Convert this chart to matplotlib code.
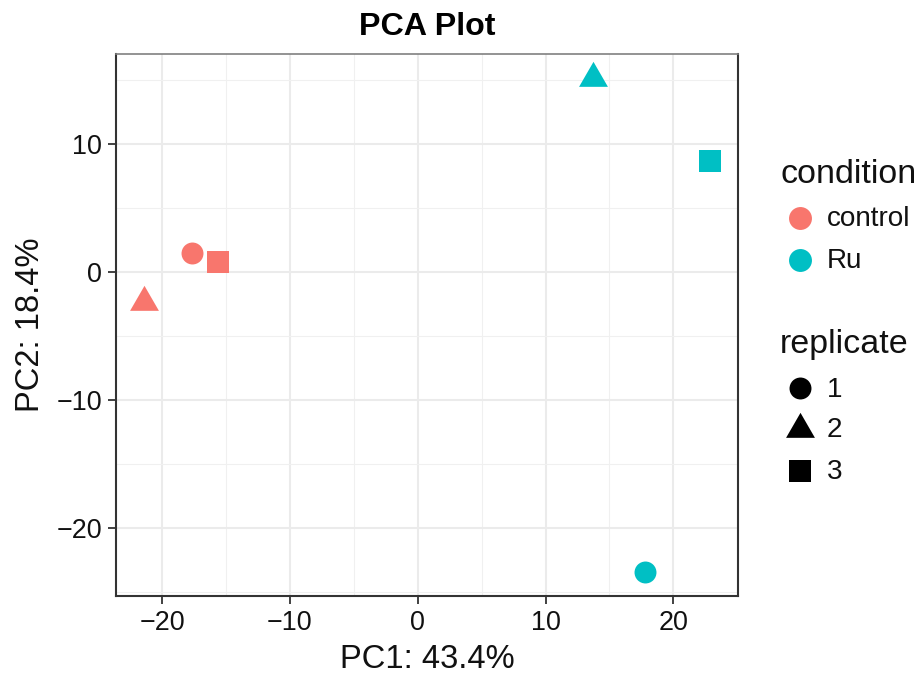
import matplotlib
matplotlib.use("Agg")
import matplotlib.pyplot as plt
from matplotlib.path import Path
from matplotlib.ticker import MultipleLocator

plt.rcParams['font.family'] = ['Liberation Sans', 'DejaVu Sans']

# ---- data ----
pc1 = [-17.65, -21.4, -15.6, 17.75, 13.7, 22.9]
pc2 = [1.5, -2.35, 0.8, -23.45, 15.15, 8.7]
condition = ["control", "control", "control", "Ru", "Ru", "Ru"]
replicate = ["1", "2", "3", "1", "2", "3"]
conditions = ["control", "Ru"]
replicates = ["1", "2", "3"]
cond_colors = {"control": "#F8766D", "Ru": "#00BFC4"}
title = "PCA Plot"
xlabel = "PC1: 43.4%"
ylabel = "PC2: 18.4%"
xticks = [-20, -10, 0, 10, 20]
yticks = [-20, -10, 0, 10]

# ---- styles ----
tri = Path([(0, 1), (-0.8660254, -0.5), (0.8660254, -0.5), (0, 1)],
           [Path.MOVETO, Path.LINETO, Path.LINETO, Path.CLOSEPOLY])
rep_marker = {"1": ("o", 15.8), "2": (tri, 24.0), "3": ("s", 16.3)}

W, H = 917, 677
fig = plt.figure(figsize=(W / 100, H / 100), dpi=100)
L, R, T, B = 116, 738.3, 54, 595.7
ax = fig.add_axes([L / W, 1 - B / H, (R - L) / W, (B - T) / H])
ax.set_xlim(-23.6, 25.08)
ax.set_ylim(-25.27, 17.05)

ax.xaxis.set_major_locator(MultipleLocator(10))
ax.yaxis.set_major_locator(MultipleLocator(10))
ax.xaxis.set_minor_locator(MultipleLocator(5))
ax.yaxis.set_minor_locator(MultipleLocator(5))
ax.set_xticks(xticks)
ax.set_yticks(yticks)
ax.grid(which='major', color='#EBEBEB', linewidth=1.5)
ax.grid(which='minor', color='#F0F0F0', linewidth=0.8)
ax.set_axisbelow(True)
ax.tick_params(which='minor', length=0)
ax.tick_params(which='major', length=5.5, width=1.3, color='#333333',
               pad=4.6, labelsize=19.4, labelcolor='#111111')

for side in ['left', 'bottom', 'right']:
    ax.spines[side].set_color('#333333')
    ax.spines[side].set_linewidth(1.5)
ax.spines['top'].set_color('#808080')
ax.spines['top'].set_linewidth(1.2)

for x, y, c, r in zip(pc1, pc2, condition, replicate):
    m, ms = rep_marker[r]
    ax.plot([x], [y], linestyle='none', marker=m, markersize=ms,
            color=cond_colors[c], markeredgewidth=0, zorder=3)

def fx(px):
    return px / W

def fy(py):
    return 1 - py / H

fig.text(fx(427), fy(35), title, ha='center', va='baseline',
         fontsize=23.2, fontweight='bold', color='black')
fig.text(fx(427), fy(668.5), xlabel, ha='center', va='baseline',
         fontsize=23.5, color='#111111')
fig.text(fx(30.5), fy(325), ylabel, ha='center', va='center', rotation=90,
         fontsize=23.5, color='#111111')

# ---- legends ----
fig.text(fx(781), fy(183.3), "condition", ha='left', va='baseline',
         fontsize=24.5, color='#111111')
cond_rows = [217.7, 260]
for name, yy in zip(conditions, cond_rows):
    fig.add_artist(plt.Line2D([fx(800)], [fy(yy)], transform=fig.transFigure,
                              linestyle='none', marker='o', markersize=16.5,
                              color=cond_colors[name], markeredgewidth=0))
    fig.text(fx(827), fy(yy + 8.5), name, ha='left', va='baseline',
             fontsize=20.1, color='#111111')

fig.text(fx(779.5), fy(353), "replicate", ha='left', va='baseline',
         fontsize=24.5, color='#111111')
rep_rows = [388.3, 428.5, 470.7]
for name, yy in zip(replicates, rep_rows):
    m, ms = rep_marker[name]
    fig.add_artist(plt.Line2D([fx(800)], [fy(yy)], transform=fig.transFigure,
                              linestyle='none', marker=m, markersize=ms,
                              color='black', markeredgewidth=0))
    fig.text(fx(827), fy(yy + 8.5), name, ha='left', va='baseline',
             fontsize=20.1, color='#111111')

fig.savefig("out.png", dpi=100)
